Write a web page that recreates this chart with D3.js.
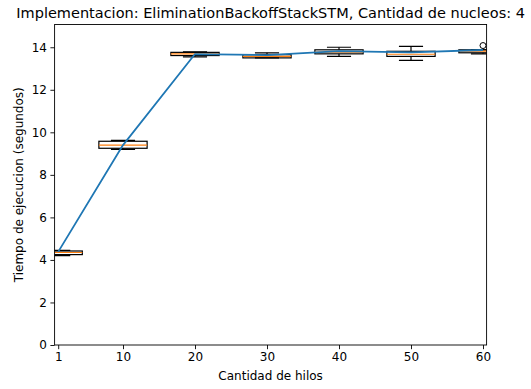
<!DOCTYPE html>
<html>
<head>
<meta charset="utf-8">
<script src="https://cdn.jsdelivr.net/npm/d3@7"></script>
<style>
  html, body { margin: 0; padding: 0; background: #fff; }
  svg { display: block; font-family: "DejaVu Sans", sans-serif; }
</style>
</head>
<body>
<svg id="chart" width="531" height="389"></svg>
<script>
// Threads used in each run
const threads = [1, 10, 20, 30, 40, 50, 60];
// Box statistics of execution time (seconds) per thread count
const whiskerLow  = [4.20, 9.20, 13.55, 13.50, 13.57, 13.38, 13.69];
const quartile1   = [4.25, 9.25, 13.61, 13.50, 13.69, 13.57, 13.74];
const medians     = [4.35, 9.40, 13.69, 13.57, 13.77, 13.67, 13.82];
const quartile3   = [4.42, 9.58, 13.76, 13.65, 13.88, 13.81, 13.88];
const whiskerHigh = [4.45, 9.62, 13.78, 13.74, 14.00, 14.04, 13.88];
// Outliers as [threads, seconds]
const fliers = [[60, 14.08]];
// Mean execution time drawn as a line
const means = [4.38, 9.40, 13.68, 13.63, 13.82, 13.76, 13.87];
const xTicks = [1, 10, 20, 30, 40, 50, 60];
const yTicks = [0, 2, 4, 6, 8, 10, 12, 14];

const svg = d3.select("#chart");
const m = { left: 54.6, right: 486.6, top: 24.5, bottom: 345 };
const boxWidth = 6.7;  // in thread units

const x = d3.scaleLinear().domain([0.5, 60.5]).range([m.left, m.right]);
const y = d3.scaleLinear().domain([0, 15.07]).range([m.bottom, m.top]);

svg.append("defs").append("clipPath").attr("id", "plot-clip")
  .append("rect")
  .attr("x", m.left).attr("y", m.top)
  .attr("width", m.right - m.left).attr("height", m.bottom - m.top);

const plot = svg.append("g").attr("clip-path", "url(#plot-clip)");

const stroke = 1.2;
threads.forEach((t, i) => {
  const g = plot.append("g");
  const cx = x(t);
  const hw = x(t + boxWidth / 2) - cx;
  const cw = hw / 2;
  // whiskers
  g.append("line").attr("x1", cx).attr("x2", cx)
    .attr("y1", y(quartile1[i])).attr("y2", y(whiskerLow[i]))
    .attr("stroke", "#000").attr("stroke-width", stroke);
  g.append("line").attr("x1", cx).attr("x2", cx)
    .attr("y1", y(quartile3[i])).attr("y2", y(whiskerHigh[i]))
    .attr("stroke", "#000").attr("stroke-width", stroke);
  // caps
  [whiskerLow[i], whiskerHigh[i]].forEach(v => {
    g.append("line").attr("x1", cx - cw).attr("x2", cx + cw)
      .attr("y1", y(v)).attr("y2", y(v))
      .attr("stroke", "#000").attr("stroke-width", stroke);
  });
  // box
  g.append("rect")
    .attr("x", cx - hw).attr("width", 2 * hw)
    .attr("y", y(quartile3[i]))
    .attr("height", Math.max(0.01, y(quartile1[i]) - y(quartile3[i])))
    .attr("fill", "none").attr("stroke", "#000").attr("stroke-width", stroke);
  // median
  g.append("line").attr("x1", cx - hw).attr("x2", cx + hw)
    .attr("y1", y(medians[i])).attr("y2", y(medians[i]))
    .attr("stroke", "#ff7f0e").attr("stroke-width", stroke);
});

plot.selectAll("circle.flier").data(fliers).enter().append("circle")
  .attr("class", "flier")
  .attr("cx", d => x(d[0])).attr("cy", d => y(d[1])).attr("r", 3)
  .attr("fill", "none").attr("stroke", "#000").attr("stroke-width", 1);

plot.append("path")
  .datum(threads.map((t, i) => [t, means[i]]))
  .attr("fill", "none").attr("stroke", "#1f77b4").attr("stroke-width", 1.8)
  .attr("stroke-linejoin", "round")
  .attr("d", d3.line().x(d => x(d[0])).y(d => y(d[1])));

// axes
const xAxis = svg.append("g").attr("transform", `translate(0,${m.bottom})`)
  .call(d3.axisBottom(x).tickValues(xTicks).tickSize(4.2).tickPadding(3.5));
const yAxis = svg.append("g").attr("transform", `translate(${m.left},0)`)
  .call(d3.axisLeft(y).tickValues(yTicks).tickSize(4.2).tickPadding(3.5));
[xAxis, yAxis].forEach(a => {
  a.select(".domain").remove();
  a.selectAll("text").attr("font-size", 12).attr("fill", "#000")
    .attr("font-family", "DejaVu Sans, sans-serif");
  a.selectAll("line").attr("stroke", "#000").attr("stroke-width", 0.9);
});

// frame
svg.append("rect")
  .attr("x", m.left).attr("y", m.top)
  .attr("width", m.right - m.left).attr("height", m.bottom - m.top)
  .attr("fill", "none").attr("stroke", "#000").attr("stroke-width", 0.9);

svg.append("text")
  .attr("x", (m.left + m.right) / 2).attr("y", 17.5)
  .attr("text-anchor", "middle").attr("font-size", 14.5).attr("fill", "#000")
  .text("Implementacion: EliminationBackoffStackSTM, Cantidad de nucleos: 4");

svg.append("text")
  .attr("x", (m.left + m.right) / 2).attr("y", 380)
  .attr("text-anchor", "middle").attr("font-size", 12).attr("fill", "#000")
  .text("Cantidad de hilos");

svg.append("text")
  .attr("transform", `translate(23,${(m.top + m.bottom) / 2}) rotate(-90)`)
  .attr("text-anchor", "middle").attr("font-size", 12).attr("fill", "#000")
  .text("Tiempo de ejecucion (segundos)");
</script>
</body>
</html>
